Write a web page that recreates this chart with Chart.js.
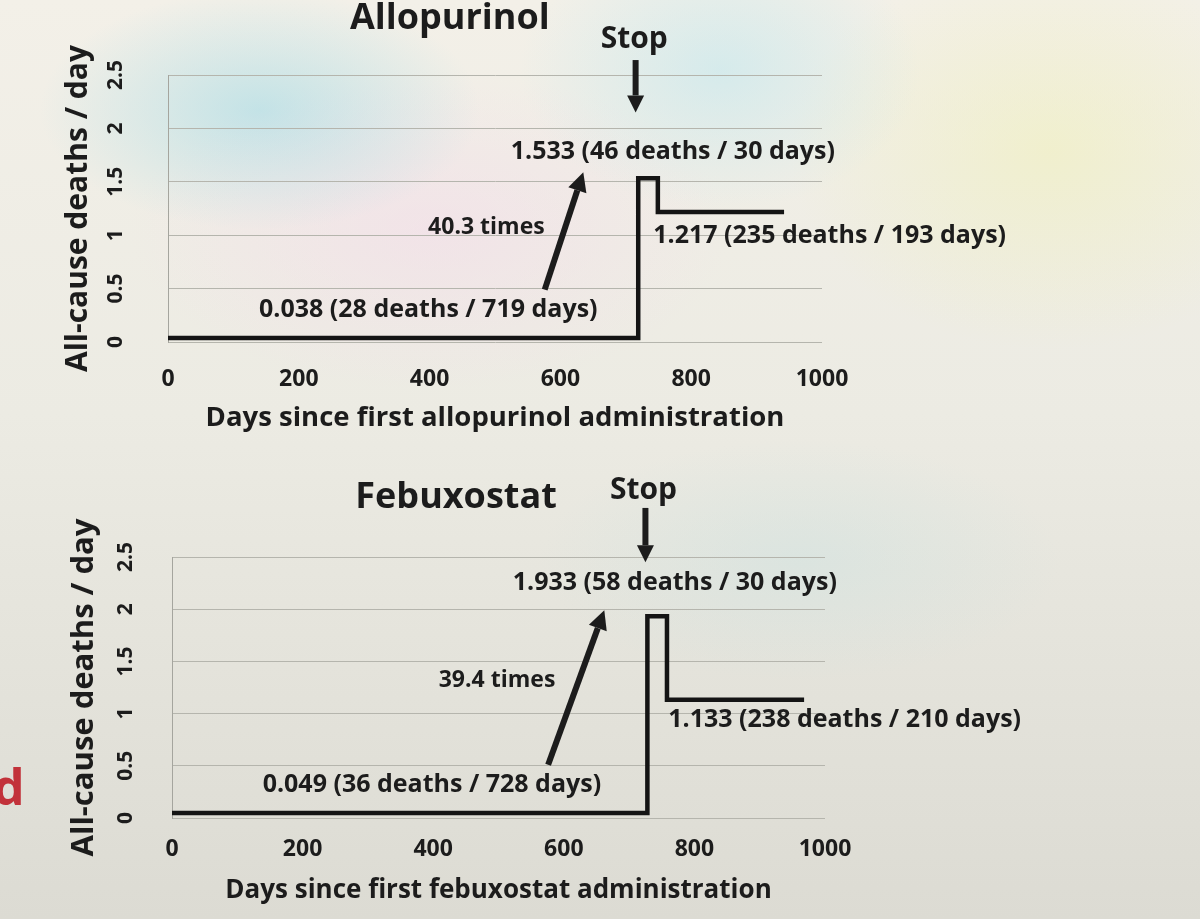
<!DOCTYPE html>
<html>
<head>
<meta charset="utf-8">
<script src="https://cdn.jsdelivr.net/npm/chart.js@4.4.0/dist/chart.umd.min.js"></script>
<style>
  html, body { margin: 0; padding: 0; }
  body {
    width: 1200px; height: 919px; position: relative; overflow: hidden;
    background:
      radial-gradient(ellipse 220px 120px at 260px 110px, rgba(150, 215, 230, 0.5), transparent),
      radial-gradient(ellipse 200px 140px at 720px 70px, rgba(185, 230, 240, 0.5), transparent),
      radial-gradient(ellipse 260px 200px at 1050px 150px, rgba(240, 240, 185, 0.55), transparent),
      radial-gradient(ellipse 300px 160px at 430px 230px, rgba(245, 215, 235, 0.45), transparent),
      radial-gradient(ellipse 260px 120px at 800px 560px, rgba(200, 225, 225, 0.4), transparent),
      linear-gradient(180deg, #f3f0e8 0%, #ecebe3 45%, #dcdbd3 100%);
  }
  canvas { position: absolute; left: 0; }
  #panel { position: absolute; left: -7px; top: 752px; font: bold 50px "Open Sans"; color: #c2323a; }
</style>
</head>
<body>
<canvas id="allo" width="1200" height="460" style="top:0"></canvas>
<canvas id="febu" width="1200" height="459" style="top:460px"></canvas>
<div id="panel">d</div>
<script>
// segments: start day, length (days), deaths, deaths per day
const alloStart = [0, 719, 749];
const alloDays = [719, 30, 193];
const alloDeaths = [28, 46, 235];
const alloRate = [0.038, 1.533, 1.217];

const febuStart = [0, 728, 758];
const febuDays = [728, 30, 210];
const febuDeaths = [36, 58, 238];
const febuRate = [0.049, 1.933, 1.133];

const xTicks = [0, 200, 400, 600, 800, 1000];
const yTicks = [0, 0.5, 1, 1.5, 2, 2.5];

const ink = '#1c1c1c';
const fam = '"Open Sans", sans-serif';

function stepPoints(start, days, rate) {
  const pts = start.map((s, i) => ({ x: s, y: rate[i] }));
  const n = start.length - 1;
  pts.push({ x: start[n] + days[n], y: rate[n] });
  return pts;
}

function segLabel(rate, deaths, days, i) {
  return rate[i].toFixed(3) + ' (' + deaths[i] + ' deaths / ' + days[i] + ' days)';
}

function drawArrow(ctx, x0, y0, x1, y1, w, head) {
  const a = Math.atan2(y1 - y0, x1 - x0);
  const bx = x1 - Math.cos(a) * head, by = y1 - Math.sin(a) * head;
  ctx.lineWidth = w;
  ctx.beginPath();
  ctx.moveTo(x0, y0);
  ctx.lineTo(bx, by);
  ctx.stroke();
  const hw = head * 0.5;
  ctx.beginPath();
  ctx.moveTo(x1, y1);
  ctx.lineTo(bx + Math.sin(a) * hw, by - Math.cos(a) * hw);
  ctx.lineTo(bx - Math.sin(a) * hw, by + Math.cos(a) * hw);
  ctx.closePath();
  ctx.fill();
}

// text and arrows placed in data units
const notes = {
  id: 'notes',
  afterDatasetsDraw(chart, args, o) {
    const { ctx } = chart;
    const sx = chart.scales.x, sy = chart.scales.y;
    ctx.save();
    ctx.fillStyle = ink;
    ctx.strokeStyle = ink;
    ctx.textBaseline = 'middle';
    o.texts.forEach(t => {
      ctx.font = 'bold ' + t.size + 'px ' + fam;
      ctx.textAlign = t.align || 'center';
      ctx.fillText(t.text, sx.getPixelForValue(t.x), sy.getPixelForValue(t.y));
    });
    o.arrows.forEach(a => {
      drawArrow(ctx, sx.getPixelForValue(a.x0), sy.getPixelForValue(a.y0),
        sx.getPixelForValue(a.x1), sy.getPixelForValue(a.y1), a.w, a.head);
    });
    ctx.restore();
  }
};

function makeChart(id, c) {
  return new Chart(document.getElementById(id), {
    type: 'line',
    data: {
      datasets: [{
        data: stepPoints(c.start, c.days, c.rate),
        stepped: true,
        borderColor: '#141414',
        borderWidth: 4.5,
        borderJoinStyle: 'miter',
        pointRadius: 0,
        fill: false
      }]
    },
    plugins: [notes],
    options: {
      responsive: false,
      animation: false,
      layout: { padding: c.pad },
      plugins: {
        legend: { display: false },
        tooltip: { enabled: false },
        notes: { texts: c.texts, arrows: c.arrows }
      },
      scales: {
        x: {
          type: 'linear', min: 0, max: 1000,
          afterBuildTicks: s => { s.ticks = xTicks.map(v => ({ value: v })); },
          afterFit: s => { s.height = c.xHeight; },
          grid: { display: false, drawTicks: false },
          border: { display: false },
          ticks: {
            padding: c.xTickPad, maxRotation: 0, autoSkip: false, color: ink,
            font: { family: fam, size: 23, weight: 'bold' },
            callback: v => String(v)
          },
          title: {
            display: true, text: c.xTitle, color: ink,
            font: { family: fam, size: c.xTitleSize, weight: 'bold' },
            padding: { top: 0, bottom: c.xTitlePad }
          }
        },
        y: {
          min: 0, max: 2.5,
          afterBuildTicks: s => { s.ticks = yTicks.map(v => ({ value: v })); },
          afterFit: s => { s.width = c.yWidth; },
          grid: { color: '#b5b5ad', lineWidth: 1, drawTicks: false },
          border: { display: true, color: '#a5a59e', width: 1 },
          ticks: {
            minRotation: 90, maxRotation: 90, crossAlign: 'center',
            padding: c.yTickPad, autoSkip: false, color: ink,
            font: { family: fam, size: 21, weight: 'bold' },
            callback: v => String(v)
          },
          title: {
            display: true, text: 'All-cause deaths / day', color: ink,
            font: { family: fam, size: c.yTitleSize, weight: 'bold' },
            padding: { top: c.yTitlePad, bottom: 0 }
          }
        }
      }
    }
  });
}

makeChart('allo', {
  start: alloStart, days: alloDays, rate: alloRate,
  pad: { left: 50, top: 75, right: 378, bottom: 18 },
  xHeight: 100, xTickPad: 24, xTitlePad: 7, xTitleSize: 27.5,
  yWidth: 118, yTickPad: 37, yTitlePad: 10, yTitleSize: 30,
  xTitle: 'Days since first allopurinol administration',
  texts: [
    { text: 'Allopurinol', x: 431, y: 3.03, size: 36 },
    { text: 'Stop', x: alloStart[1] - 6, y: 2.83, size: 30 },
    { text: segLabel(alloRate, alloDeaths, alloDays, 1), x: 772, y: 1.78, size: 25 },
    { text: (alloRate[1] / alloRate[0]).toFixed(1) + ' times', x: 576, y: 1.07, size: 23, align: 'right' },
    { text: segLabel(alloRate, alloDeaths, alloDays, 2), x: 742, y: 0.99, size: 25, align: 'left' },
    { text: segLabel(alloRate, alloDeaths, alloDays, 0), x: 398, y: 0.30, size: 25 }
  ],
  arrows: [
    { x0: alloStart[1] - 4, y0: 2.64, x1: alloStart[1] - 4, y1: 2.15, w: 6, head: 17 },
    { x0: 576, y0: 0.49, x1: 635, y1: 1.59, w: 6, head: 19 }
  ]
});

makeChart('febu', {
  start: febuStart, days: febuDays, rate: febuRate,
  pad: { left: 50, top: 97, right: 375, bottom: 11 },
  xHeight: 90, xTickPad: 18, xTitlePad: 2, xTitleSize: 26,
  yWidth: 122, yTickPad: 31, yTitlePad: 16, yTitleSize: 31,
  xTitle: 'Days since first febuxostat administration',
  texts: [
    { text: 'Febuxostat', x: 435, y: 3.07, size: 36 },
    { text: 'Stop', x: febuStart[1] - 6, y: 3.14, size: 30 },
    { text: segLabel(febuRate, febuDeaths, febuDays, 1), x: 770, y: 2.25, size: 25 },
    { text: (febuRate[1] / febuRate[0]).toFixed(1) + ' times', x: 587, y: 1.32, size: 23, align: 'right' },
    { text: segLabel(febuRate, febuDeaths, febuDays, 2), x: 760, y: 0.94, size: 25, align: 'left' },
    { text: segLabel(febuRate, febuDeaths, febuDays, 0), x: 398, y: 0.32, size: 25 }
  ],
  arrows: [
    { x0: febuStart[1] - 3, y0: 2.97, x1: febuStart[1] - 3, y1: 2.45, w: 6, head: 17 },
    { x0: 576, y0: 0.51, x1: 662, y1: 1.99, w: 6, head: 19 }
  ]
});
</script>
</body>
</html>
